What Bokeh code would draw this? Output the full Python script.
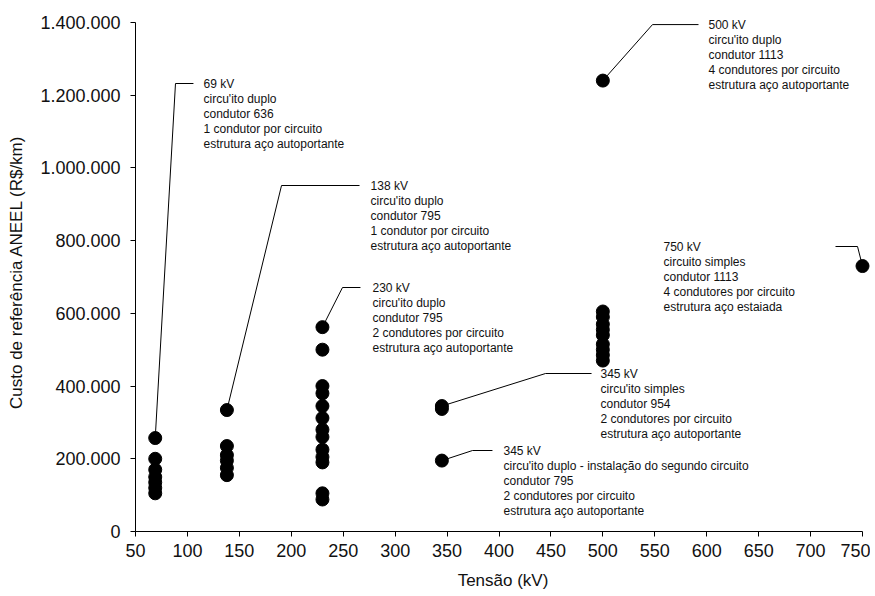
from bokeh.plotting import figure
from bokeh.models import ColumnDataSource, FixedTicker
from bokeh.core.properties import value
from bokeh.embed import file_html
from bokeh.resources import INLINE

# ---- data ----
v69 = [257000, 200000, 170000, 150000, 135000, 120000, 105000]
v138 = [334000, 235000, 210000, 195000, 175000, 155000]
v230 = [562000, 500000, 400000, 380000, 345000, 312000, 280000, 260000,
        225000, 205000, 190000, 105000, 88000]
v345 = [345000, 337000, 195000]
v500 = [1240000, 605000, 590000, 570000, 555000, 540000, 515000, 500000,
        485000, 470000]
v750 = [730000]

x_ticks = [50, 100, 150, 200, 250, 300, 350, 400, 450, 500, 550, 600, 650, 700, 750]
y_ticks = [0, 200000, 400000, 600000, 800000, 1000000, 1200000, 1400000]
y_tick_labels = ["0", "200.000", "400.000", "600.000", "800.000",
                 "1.000.000", "1.200.000", "1.400.000"]

ann_69 = ["69 kV", "circu'ito duplo", "condutor 636", "1 condutor por circuito",
          "estrutura aço autoportante"]
ann_138 = ["138 kV", "circu'ito duplo", "condutor 795", "1 condutor por circuito",
           "estrutura aço autoportante"]
ann_230 = ["230 kV", "circu'ito duplo", "condutor 795", "2 condutores por circuito",
           "estrutura aço autoportante"]
ann_345a = ["345 kV", "circu'ito simples", "condutor 954", "2 condutores por circuito",
            "estrutura aço autoportante"]
ann_345b = ["345 kV", "circu'ito duplo - instalação do segundo circuito",
            "condutor 795", "2 condutores por circuito", "estrutura aço autoportante"]
ann_500 = ["500 kV", "circu'ito duplo", "condutor 1113", "4 condutores por circuito",
           "estrutura aço autoportante"]
ann_750 = ["750 kV", "circuito simples", "condutor 1113", "4 condutores por circuito",
           "estrutura aço estaiada"]

annotations = [
    # (point kV, point value, elbow kV, elbow value, end kV, text kV, lines)
    (69, v69[0], 88.5, 1232000, 105.8, 115.5, ann_69),
    (138, v138[0], 190.6, 951500, 265.7, 276.3, ann_138),
    (230, v230[0], 249.3, 671000, 266.6, 278.2, ann_230),
    (345, v345[0], 444.8, 434500, 489.1, 497.7, ann_345a),
    (345, v345[2], 374.5, 222750, 393.7, 404.3, ann_345b),
    (500, v500[0], 547.8, 1394000, 592.1, 601.7, ann_500),
    (750, v750[0], 745.2, 783750, 724.0, 558.4, ann_750),
]

FONT = "Liberation Sans"

p = figure(frame_width=735, frame_height=519,
           x_range=(50, 757.7), y_range=(0, 1427250),
           min_border_left=135, min_border_right=0, min_border_top=12,
           min_border_bottom=61,
           output_backend="svg", toolbar_location=None)
p.outline_line_color = None
p.xgrid.visible = False
p.ygrid.visible = False

xs, ys = [], []
for kv, vals in [(69, v69), (138, v138), (230, v230), (345, v345), (500, v500), (750, v750)]:
    for v in vals:
        xs.append(kv)
        ys.append(v)

for (px, pv, ex, ev, endx, tx, lines) in annotations:
    p.line([px, ex, endx], [pv, ev, ev], line_color="black", line_width=1)

p.scatter(xs, ys, size=13, fill_color="black", line_color="black")

tx_l, ty_l, tt_l, to_l = [], [], [], []
for (px, pv, ex, ev, endx, tx, lines) in annotations:
    for i, t in enumerate(lines):
        tx_l.append(tx)
        ty_l.append(ev)
        tt_l.append(t)
        to_l.append(i * 15)
src = ColumnDataSource(dict(x=tx_l, y=ty_l, text=tt_l, yo=to_l))
p.text(x="x", y="y", text="text", y_offset="yo", source=src,
       text_font=value(FONT), text_font_size="12px", text_color="#111111",
       text_baseline="middle", text_align="left")

for ax in (p.xaxis[0], p.yaxis[0]):
    ax.major_label_text_font = FONT
    ax.major_label_text_font_size = "18px"
    ax.major_label_text_color = "#111111"
    ax.axis_label_text_font = FONT
    ax.axis_label_text_font_size = "17px"
    ax.axis_label_text_font_style = "normal"
    ax.axis_label_text_color = "#111111"
    ax.axis_line_color = "black"
    ax.major_tick_line_color = "black"
    ax.minor_tick_line_color = None
    ax.major_tick_in = 0
    ax.major_tick_out = 5

p.xaxis[0].ticker = FixedTicker(ticks=x_ticks)
p.xaxis[0].bounds = (50, 750)
p.xaxis[0].axis_label = "Tensão (kV)"
p.xaxis[0].major_label_standoff = 7
p.xaxis[0].axis_label_standoff = 11

p.yaxis[0].ticker = FixedTicker(ticks=y_ticks)
p.yaxis[0].major_label_overrides = {t: l for t, l in zip(y_ticks, y_tick_labels)}
p.yaxis[0].bounds = (0, 1400000)
p.yaxis[0].axis_label = "Custo de referência ANEEL (R$/km)"
p.yaxis[0].major_label_standoff = 10
p.yaxis[0].axis_label_standoff = 11

open("out.html", "w").write(file_html(p, INLINE))
